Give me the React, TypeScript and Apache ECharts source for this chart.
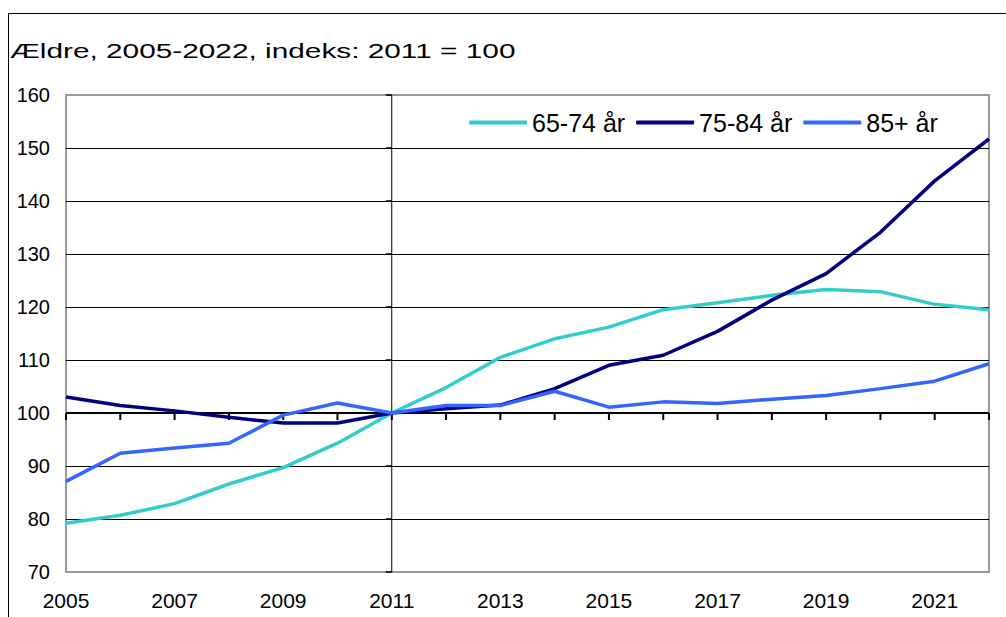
import React, { useEffect, useRef } from "react";
import * as echarts from "echarts";

const years = ["2005","2006","2007","2008","2009","2010","2011","2012","2013","2014","2015","2016","2017","2018","2019","2020","2021","2022"];
const s6574 = [79.2, 80.7, 82.9, 86.6, 89.7, 94.3, 100, 104.8, 110.5, 114.0, 116.2, 119.5, 120.8, 122.2, 123.3, 122.9, 120.5, 119.5];
const s7584 = [103.0, 101.4, 100.4, 99.2, 98.1, 98.1, 100, 100.8, 101.5, 104.6, 109.0, 110.9, 115.4, 121.3, 126.3, 134.1, 143.8, 151.7];
const s85 = [87.1, 92.4, 93.4, 94.3, 99.6, 101.9, 100, 101.4, 101.4, 104.1, 101.1, 102.1, 101.8, 102.6, 103.3, 104.6, 106.0, 109.3];
const seriesNames = ["65-74 år", "75-84 år", "85+ år"];
const seriesColors = ["#33CCCC", "#000080", "#3366FF"];
const titleText = "Ældre, 2005-2022, indeks: 2011 = 100";
const yTickValues = [70, 80, 90, 100, 110, 120, 130, 140, 150, 160];
const yMin = 70;
const yMax = 160;
const yStep = 10;
const baseValue = 100;
const crossYear = "2011";

const FONT = "'Liberation Sans', Arial, sans-serif";

export default function App() {
  const ref = useRef<HTMLDivElement>(null);
  useEffect(() => {
    if (!ref.current) return;
    const chart = echarts.init(ref.current, null, { renderer: "svg" });
    const gridLeft = 66, gridTop = 95, gridW = 923, gridH = 477;
    const nTicks = yTickValues.length;
    const splitColors = Array.from({ length: nTicks }, (_, i) => (i === 0 || i === nTicks - 1 ? "#999999" : "#000000"));
    const data = [s6574, s7584, s85];
    const lineSeries = seriesNames.map((name, i) => ({
      name,
      type: "line",
      data: data[i],
      xAxisIndex: 0,
      yAxisIndex: 0,
      symbol: "none",
      showSymbol: false,
      z: 3,
      lineStyle: { color: seriesColors[i], width: 3.5 },
      itemStyle: { color: seriesColors[i] },
    }));
    chart.setOption({
      animation: false,
      backgroundColor: "#ffffff",
      textStyle: { fontFamily: FONT },
      graphic: [
        {
          type: "rect",
          shape: { x: 8.5, y: 13.5, width: 1100, height: 700 },
          style: { fill: "none", stroke: "#000", lineWidth: 1 },
          silent: true,
        },
        {
          type: "text",
          x: 10,
          y: 51,
          scaleX: 1.42,
          style: {
            text: titleText,
            font: `21px ${FONT}`,
            fill: "#000",
            textAlign: "left",
            textVerticalAlign: "middle",
          },
        },
      ],
      legend: {
        left: 464,
        top: 105,
        itemWidth: 58,
        itemHeight: 4,
        itemGap: 11,
        icon: "roundRect",
        textStyle: { fontSize: 25, color: "#000", fontFamily: FONT },
        data: seriesNames,
      },
      grid: {
        left: gridLeft,
        top: gridTop,
        width: gridW,
        height: gridH,
        show: true,
        borderColor: "#999999",
        borderWidth: 2,
        backgroundColor: "transparent",
      },
      xAxis: {
        type: "category",
        data: years,
        boundaryGap: false,
        axisLine: { show: false },
        axisTick: { show: false },
        splitLine: { show: false },
        axisLabel: { interval: 1, margin: 18, fontSize: 21, color: "#000", fontFamily: FONT },
      },
      yAxis: {
        type: "value",
        min: yMin,
        max: yMax,
        interval: yStep,
        axisLine: { show: false },
        axisTick: { show: false },
        axisLabel: { margin: 16, fontSize: 20, color: "#000", fontFamily: FONT },
        splitLine: { show: true, lineStyle: { color: splitColors, width: 1 } },
      },
      series: [
        {
          name: "baseAxis",
          type: "custom",
          silent: true,
          z: 1,
          clip: false,
          data: years.map((y) => [y, baseValue]),
          renderItem: (params: any, api: any) => {
            const p = api.coord([api.value(0), baseValue]);
            const children: any[] = [
              { type: "rect", shape: { x: p[0] - 1, y: p[1], width: 2, height: 7 }, style: { fill: "#000" } },
            ];
            if (params.dataIndex === 0) {
              const q = api.coord([years[years.length - 1], baseValue]);
              children.push({ type: "line", shape: { x1: p[0], y1: p[1], x2: q[0], y2: q[1] }, style: { stroke: "#000", lineWidth: 2 } });
            }
            return { type: "group", children };
          },
        },
        {
          name: "crossAxis",
          type: "custom",
          silent: true,
          z: 1,
          clip: false,
          data: yTickValues.map((v) => [crossYear, v]),
          renderItem: (params: any, api: any) => {
            const p = api.coord([crossYear, api.value(1)]);
            const children: any[] = [
              { type: "rect", shape: { x: p[0] - 6, y: p[1] - 0.75, width: 6, height: 1.5 }, style: { fill: "#000" } },
            ];
            if (params.dataIndex === 0) {
              const q = api.coord([crossYear, yTickValues[yTickValues.length - 1]]);
              children.push({ type: "line", shape: { x1: p[0], y1: p[1], x2: q[0], y2: q[1] }, style: { stroke: "#000", lineWidth: 1 } });
            }
            return { type: "group", children };
          },
        },
        ...lineSeries,
      ],
    });
    return () => chart.dispose();
  }, []);
  return (
    <div
      ref={ref}
      style={{ position: "fixed", left: 0, top: 0, width: 1006, height: 617 }}
    />
  );
}
